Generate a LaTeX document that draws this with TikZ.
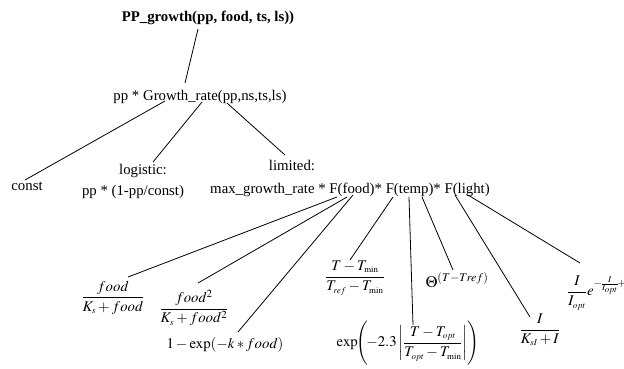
\documentclass[tikz,border=0pt]{standalone}
\usepackage{amsmath}
\usepackage{mathptmx}
\usepackage{fontspec}
\setmainfont{Liberation Serif}
\usetikzlibrary{calc}
\newcommand\lsub[1]{_{\scriptscriptstyle #1}}
\tikzset{
  lbl/.style={inner sep=0pt, font=\fontsize{14.8}{17}\selectfont},
  edge/.style={draw=black, line width=0.8pt}
}
\begin{document}
\begin{tikzpicture}[x=1pt,y=-1pt]
\useasboundingbox (0,0) rectangle (624,369);
\clip (0,0) rectangle (624,369);
\fill[white] (0,0) rectangle (624,369);
% nodes
\node[lbl, font=\fontsize{14.8}{17}\selectfont\bfseries] (title) at (208,18) {PP\_growth(pp, food, ts, ls))};
\node[lbl] (grow) at (200,97) {pp * Growth\_rate(pp,ns,ts,ls)};
\node[lbl] (const) at (27,186) {const};
\node[lbl] (logi) at (143,171) {logistic:};
\node[lbl] (logf) at (133,192) {pp * (1-pp/const)};
\node[lbl] (lim) at (292,165) {limited:};
\node[lbl] (maxg) at (350,190) {max\_growth\_rate * F(food)* F(temp)* F(light)};
\node[lbl] (f1) at (113,298) {$\dfrac{food}{K\lsub{s}+food}$};
\node[lbl] (f2) at (194,308) {$\dfrac{food^2}{K\lsub{s}+food^2}$};
\node[lbl] (f3) at (225,345) {$1-\exp(-k * food)$};
\node[lbl] (t1) at (355,278) {$\dfrac{T-T\lsub{\min}}{T\lsub{ref}-T\lsub{\min}}$};
\node[lbl] (t2) at (408,343) {$\exp\!\Biggl(\!-2.3\left|\dfrac{T-T\lsub{opt}}{T\lsub{opt}-T\lsub{\min}}\right|\Biggr)$};
\node[lbl, font=\fontsize{16}{18}\selectfont] (t3) at (457,280) {$\Theta^{(T-Tref)}$};
\node[lbl] (l1) at (540,330) {$\dfrac{I}{K\lsub{sI}+I}$};
\node[lbl, anchor=west] (l2) at (567,293) {$\dfrac{I}{I\lsub{opt}}e^{-\!\frac{I}{I_{opt}}\!+1}$};
% connectors
\draw[edge] ($(title)+(-10,11)$) -- ($(grow)+(-15,-14)$);
\draw[edge] ($(grow)+(-35,4)$) -- ($(const)+(-2,-6)$);
\draw[edge] ($(grow)+(2,5)$) -- ($(logi)+(10,-9)$);
\draw[edge] ($(grow)+(27,6)$) -- ($(lim)+(-7,-10)$);
\draw[edge] ($(maxg)+(-13,7)$) -- ($(f1)+(15,-21)$);
\draw[edge] ($(maxg)+(-3,7)$) -- ($(f2)+(4,-25)$);
\draw[edge] ($(maxg)+(3,5)$) -- ($(f3)+(13,-13)$);
\draw[edge] ($(maxg)+(43,7)$) -- ($(t1)+(-5,-18)$);
\draw[edge] ($(maxg)+(59,7)$) -- ($(t2)+(5,-18)$);
\draw[edge] ($(maxg)+(72,7)$) -- ($(t3)+(-4,-10)$);
\draw[edge] ($(maxg)+(105,5)$) -- ($(l1)+(-10,-13)$);
\draw[edge] ($(maxg)+(118,5)$) -- ($(l2.west)+(13,-30)$);
\end{tikzpicture}
\end{document}
